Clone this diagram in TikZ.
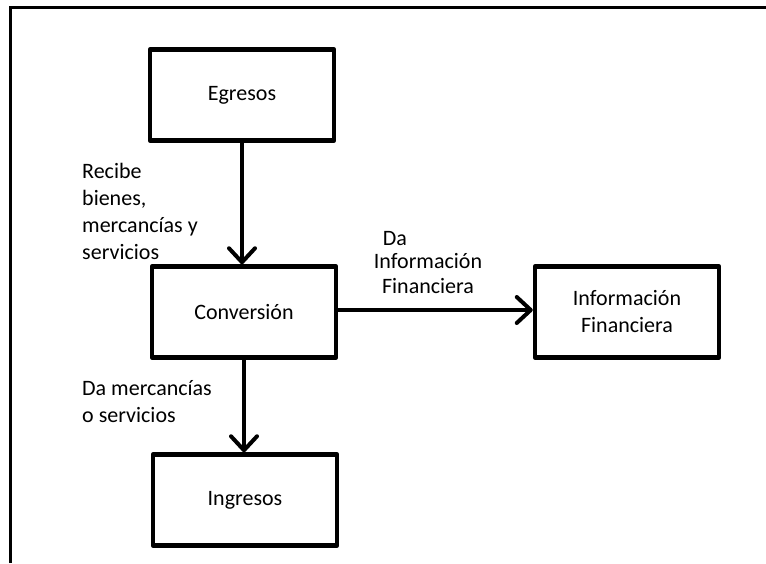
\documentclass[tikz,border=0pt]{standalone}
\usepackage{fontspec}
\setmainfont{Carlito}
\usetikzlibrary{arrows.meta}
\begin{document}
\begin{tikzpicture}[x=1pt,y=-1pt,
  every node/.style={font=\fontsize{22}{27}\selectfont, inner sep=0pt},
  block/.style={draw, line width=4.5pt, line join=round, minimum width=184pt, minimum height=91pt, align=center},
  flow/.style={line width=4pt, line cap=round, -{Straight Barb[length=14pt,width=26pt,line join=round,line cap=round]}},
  lbl/.style={align=left, anchor=base west},
  frame/.style={line width=3pt}]
  \useasboundingbox (0,0) rectangle (766,563);

  % outer frame: left and top sides only
  \draw[frame] (10,563) -- (10,7.5) -- (766,7.5);

  % blocks
  \node[block] (eg)   at (242,95)  {Egresos};
  \node[block] (conv) at (244,312) {Conversión};
  \node[block] (info) at (627,312) {Información\\Financiera};
  \node[block] (ing)  at (245,500) {Ingresos};

  % connectors
  \draw[flow] (eg.south) -- (eg.south |- conv.north);
  \draw[flow] (conv.east |- 0,310) -- (info.west |- 0,310);
  \draw[flow] (conv.south) -- (conv.south |- ing.north);

  % connector labels (base anchor sits on the last line)
  \node[lbl] (l1) at (82,259) {Recibe\\bienes,\\mercancías y\\servicios};
  \node[align=center, anchor=base] (l2) at (428,293) {Da\hspace*{66pt}\\[-4pt]Información\\[-2pt]Financiera};
  \node[lbl] (l3) at (82,422) {Da mercancías\\o servicios};
\end{tikzpicture}
\end{document}
